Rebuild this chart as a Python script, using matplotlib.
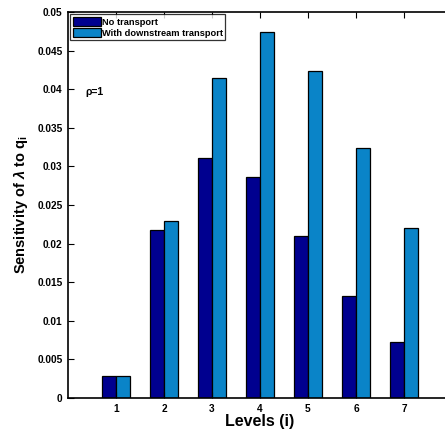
import numpy as np
import matplotlib.pyplot as plt

plt.rcParams.update({
    'font.family': 'sans-serif',
    'font.sans-serif': ['Liberation Sans', 'DejaVu Sans'],
    'font.weight': 'bold',
    'mathtext.fontset': 'custom',
    'mathtext.rm': 'Liberation Sans',
    'mathtext.bf': 'Liberation Sans:bold',
    'mathtext.it': 'Liberation Sans:italic',
})

# data
levels = [1, 2, 3, 4, 5, 6, 7]
no_transport = [0.0028, 0.0217, 0.0311, 0.0286, 0.0210, 0.0132, 0.0073]
with_transport = [0.0028, 0.0229, 0.0415, 0.0474, 0.0424, 0.0324, 0.0220]
series_labels = ['No transport', 'With downstream transport']
y_ticks = [0, 0.005, 0.01, 0.015, 0.02, 0.025, 0.03, 0.035, 0.04, 0.045, 0.05]
y_tick_labels = ['0', '0.005', '0.01', '0.015', '0.02', '0.025', '0.03',
                 '0.035', '0.04', '0.045', '0.05']

dark = '#00008F'
light = '#0A84C8'

fig = plt.figure(figsize=(4.45, 4.33), dpi=100)
# right edge of the box lies just outside the picture, as in the reference
ax = fig.add_axes([68 / 445, 35 / 433, 384 / 445, 386 / 433])

x = np.array(levels)
w = 0.285
ax.bar(x - w / 2, no_transport, width=w, color=dark, edgecolor='black',
       linewidth=0.9, label=series_labels[0])
ax.bar(x + w / 2, with_transport, width=w, color=light, edgecolor='black',
       linewidth=0.9, label=series_labels[1])

ax.set_xlim(0, 8)
ax.set_ylim(0, 0.05)
ax.set_xticks(levels)
ax.set_yticks(y_ticks)
ax.set_yticklabels(y_tick_labels)
ax.tick_params(direction='in', top=True, right=True, length=4, width=0.8,
               labelsize=7.3, pad=4)
for lab in ax.get_xticklabels() + ax.get_yticklabels():
    lab.set_fontweight('bold')
for s in ax.spines.values():
    s.set_linewidth(1.2)

ax.set_xlabel('Levels (i)', fontsize=11.5, fontweight='bold', labelpad=0)
ax.set_ylabel(r'Sensitivity of $\lambda$ to q$_\mathbf{i}$',
              fontsize=10.5, fontweight='bold', labelpad=5)

ax.text(0.37, 0.0393, '\u03c1=1', fontsize=7.5, fontweight='bold')

leg = ax.legend(loc='upper left', fontsize=6.7, frameon=True, fancybox=False,
                edgecolor='black', borderaxespad=0.25, borderpad=0.25,
                handlelength=3.0, handleheight=1.2, handletextpad=0.15,
                labelspacing=0.12)
leg.get_frame().set_linewidth(0.9)
for t in leg.get_texts():
    t.set_fontweight('bold')

fig.savefig('out.png', dpi=100)
